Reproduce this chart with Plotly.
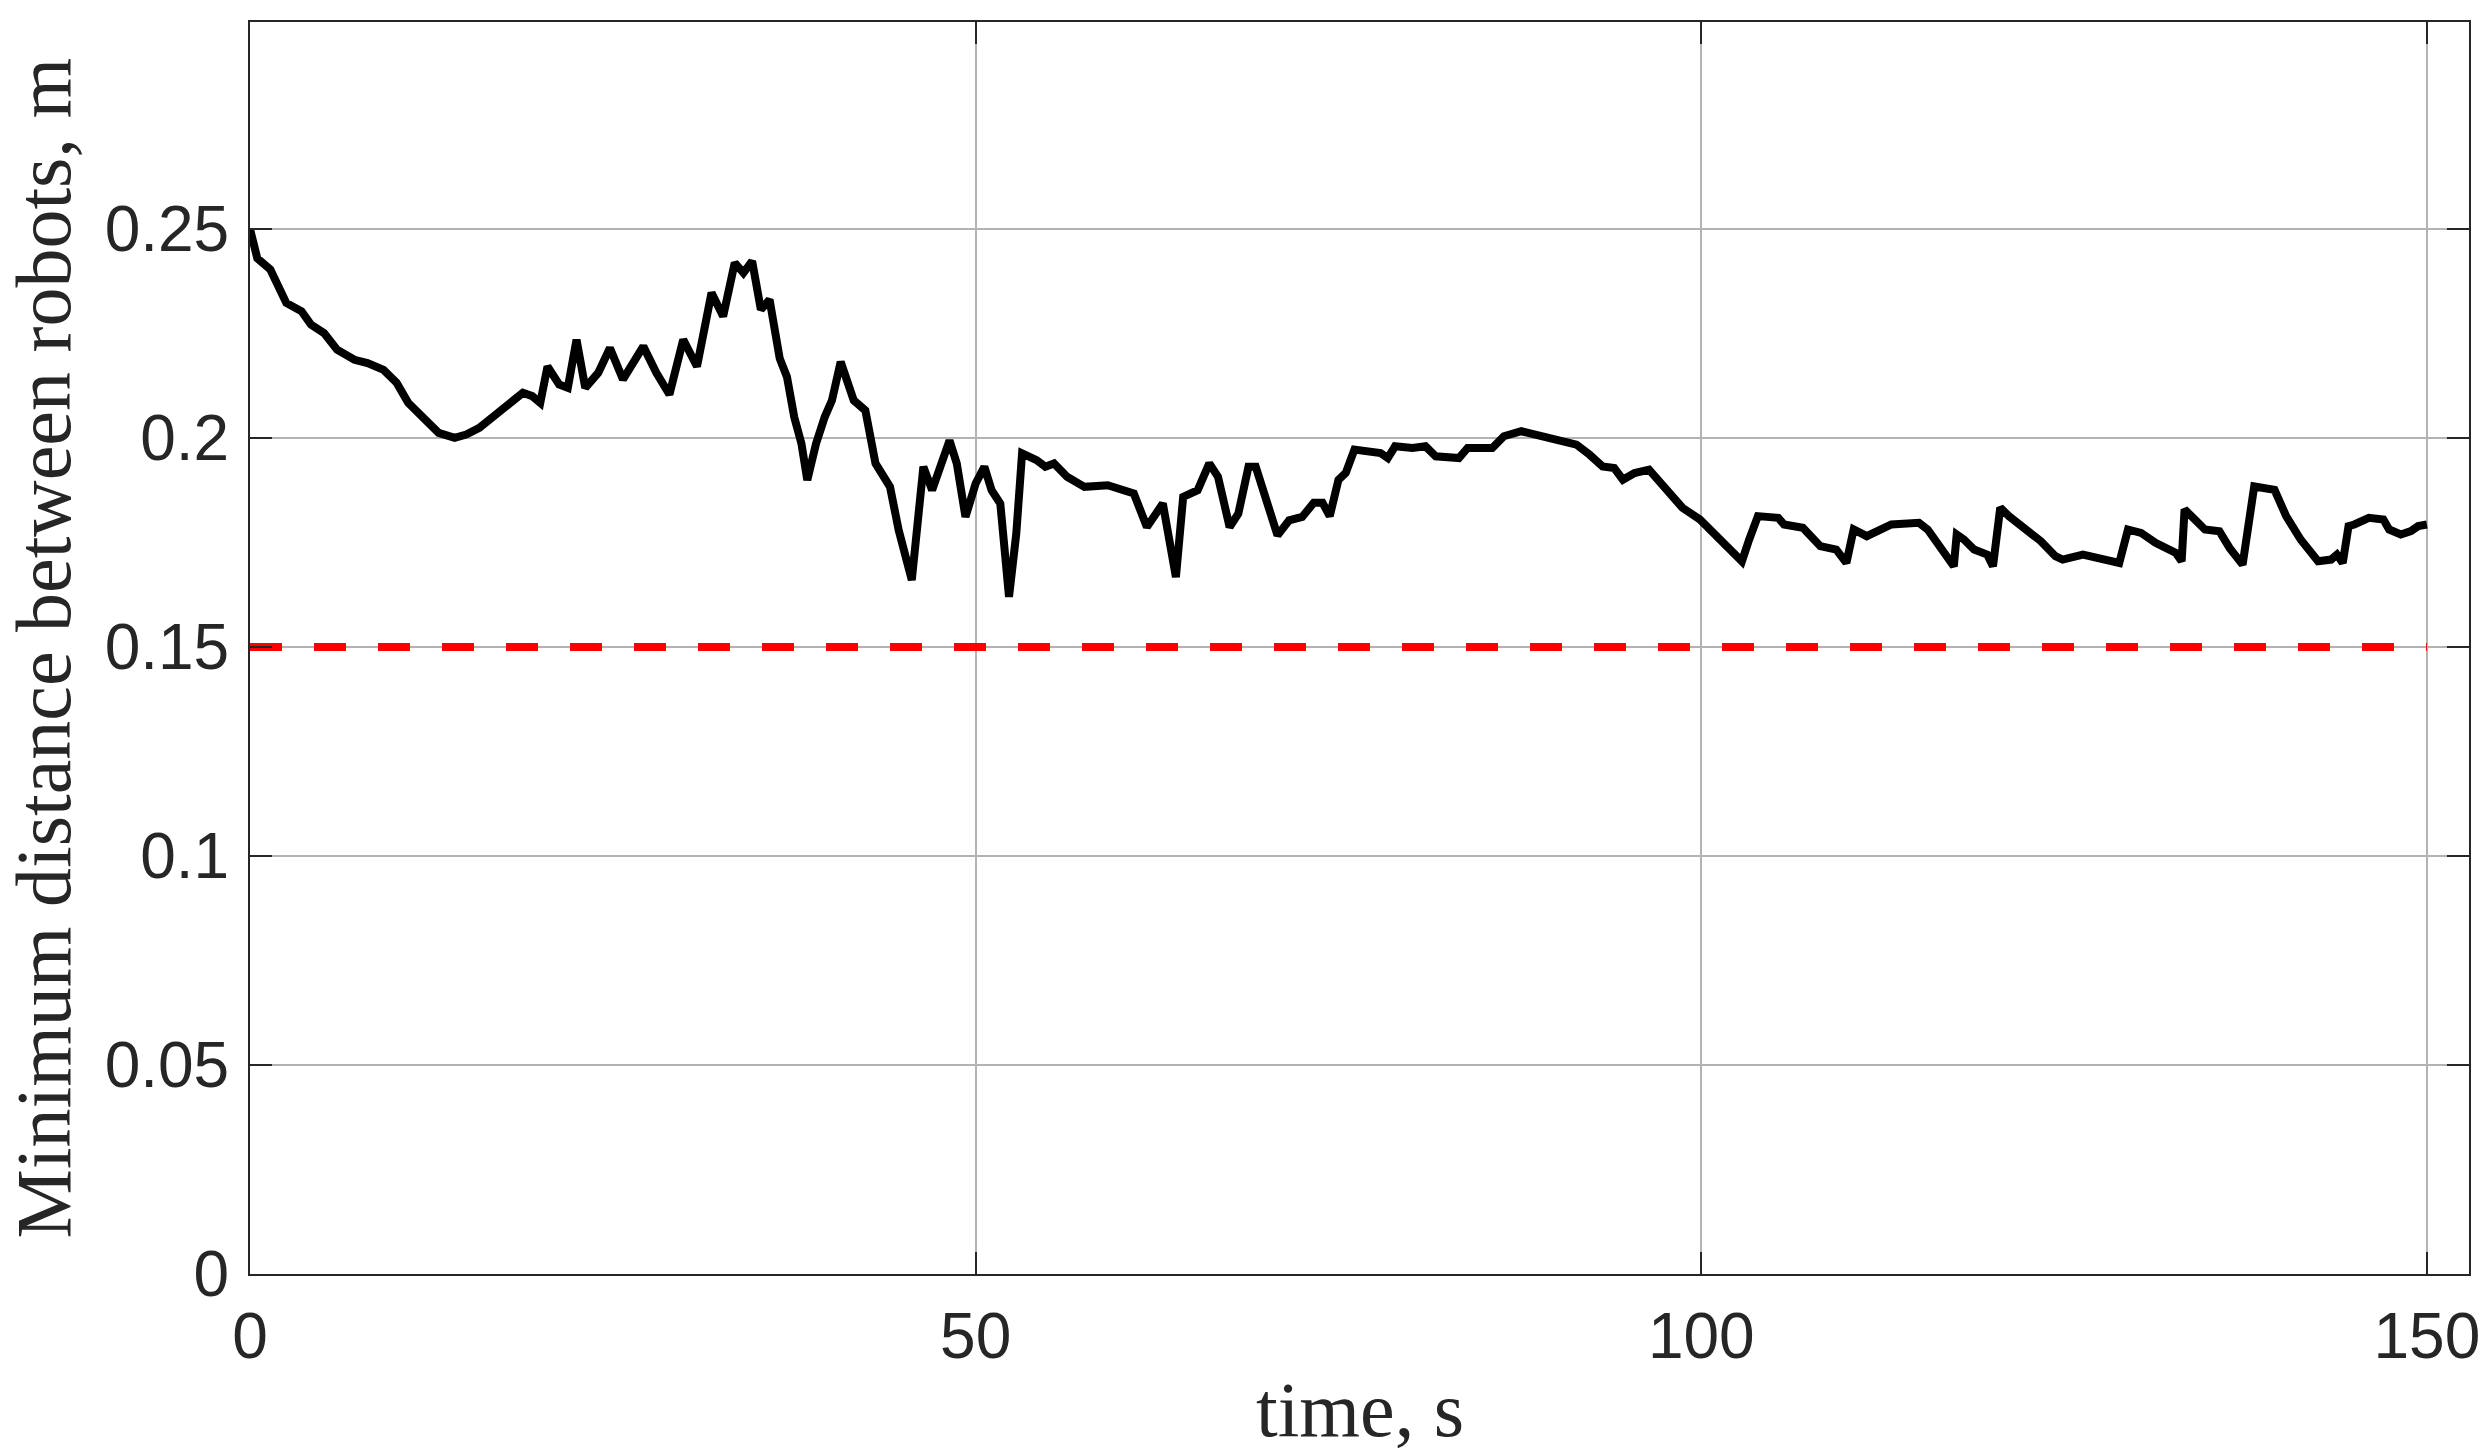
import plotly.graph_objects as go

# minimum distance between robots over time
time_s = [
    0, 0.5, 1.4, 2.5, 3.55, 4.2, 5.1, 6.0, 7.2, 8.1, 9.2, 10.1, 10.9, 12.1, 13.0,
    14.1, 14.9, 15.8, 17.0, 17.9, 18.8, 19.45, 20.0, 20.5, 21.3, 21.9, 22.5, 23.1,
    24.0, 24.8, 25.7, 27.1, 28.0, 28.9, 29.85, 30.8, 31.8, 32.6, 33.4, 34.0, 34.6,
    35.2, 35.8, 36.5, 37.0, 37.5, 38.0, 38.4, 39.0, 39.6, 40.1, 40.7, 41.2, 41.6,
    42.4, 43.1, 44.1, 44.7, 45.6, 46.4, 47.0, 47.6, 48.2, 48.7, 49.3, 50.0, 50.6,
    51.1, 51.7, 52.3, 52.8, 53.2, 54.2, 54.8, 55.4, 56.3, 57.5, 59.1, 60.0, 60.9,
    61.8, 62.4, 62.9, 63.8, 64.3, 65.3, 66.1, 66.7, 67.5, 68.1, 68.8, 69.3, 70.2,
    70.8, 71.6, 72.5, 73.3, 73.9, 74.4, 75.0, 75.5, 76.1, 77.9, 78.4, 78.9, 80.1,
    81.0, 81.7, 83.3, 83.9, 85.6, 86.4, 87.6, 88.6, 90.5, 91.4, 92.3, 93.2, 94.0,
    94.6, 95.4, 96.4, 97.0, 97.8, 98.7, 99.9, 100.9, 101.9, 102.8, 103.3, 103.9,
    105.3, 105.7, 107.0, 108.2, 109.3, 110.0, 110.5, 111.4, 113.1, 115.0, 115.6,
    116.3, 117.4, 117.6, 118.1, 118.8, 119.7, 120.1, 120.6, 121.2, 122.4, 123.4,
    124.4, 124.9, 126.3, 127.8, 128.8, 129.4, 130.3, 131.3, 132.7, 133.1, 133.3,
    134.0, 134.7, 135.7, 136.4, 137.3, 137.6, 138.1, 139.5, 140.3, 141.3, 142.5,
    143.4, 143.8, 144.2, 144.6, 145.0, 146.0, 147.0, 147.4, 148.2, 148.9, 149.4,
    150.0,
]
min_distance = [
    0.25, 0.243, 0.2403, 0.2323, 0.2303, 0.2271, 0.2251, 0.2211, 0.2187, 0.2179,
    0.2163, 0.2132, 0.2084, 0.2044, 0.2012, 0.2, 0.2008, 0.2024, 0.2056, 0.2084,
    0.2108, 0.21, 0.2084, 0.2171, 0.2128, 0.212, 0.2235, 0.212, 0.2156, 0.2215,
    0.214, 0.2219, 0.2156, 0.2104, 0.2235, 0.2171, 0.2347, 0.2291, 0.2419, 0.2395,
    0.2423, 0.2307, 0.2331, 0.219, 0.2146, 0.205, 0.1986, 0.1899, 0.1986, 0.205,
    0.209, 0.2182, 0.2138, 0.209, 0.2066, 0.1939, 0.1883, 0.1779, 0.166, 0.1931,
    0.1875, 0.1931, 0.1994, 0.1939, 0.1811, 0.1891, 0.1931, 0.1875, 0.1843, 0.162,
    0.1771, 0.1963, 0.1947, 0.1931, 0.1939, 0.1907, 0.1883, 0.1887, 0.1875, 0.1867,
    0.1787, 0.1819, 0.1843, 0.1667, 0.1859, 0.1875, 0.1939, 0.1907, 0.1787, 0.1819,
    0.1931, 0.1931, 0.1827, 0.1767, 0.1803, 0.1811, 0.1845, 0.1845, 0.1813, 0.19,
    0.1916, 0.1972, 0.1964, 0.1952, 0.198, 0.1976, 0.198, 0.1956, 0.1952, 0.1976,
    0.1976, 0.2004, 0.2016, 0.2008, 0.1996, 0.1984, 0.196, 0.1932, 0.1928, 0.19,
    0.1916, 0.1924, 0.19, 0.1868, 0.1833, 0.1805, 0.1769, 0.1733, 0.1705, 0.1757,
    0.1813, 0.1809, 0.1793, 0.1785, 0.1741, 0.1733, 0.1701, 0.1781, 0.1765, 0.1793,
    0.1797, 0.1781, 0.1749, 0.1693, 0.1769, 0.1757, 0.1733, 0.1721, 0.1693, 0.1833,
    0.1813, 0.1781, 0.1753, 0.1717, 0.1709, 0.1721, 0.1709, 0.1701, 0.1781, 0.1773,
    0.1749, 0.1725, 0.1705, 0.1829, 0.1805, 0.1781, 0.1777, 0.1737, 0.1697, 0.1781,
    0.1884, 0.1876, 0.1813, 0.1757, 0.1705, 0.1709, 0.1721, 0.1701, 0.1789, 0.1793,
    0.1809, 0.1805, 0.1781, 0.1769, 0.1777, 0.1789, 0.1793,
]

# safety threshold
threshold_t = [0, 150]
threshold_d = [0.15, 0.15]

x_ticks = [0, 50, 100, 150]
y_ticks = [0, 0.05, 0.1, 0.15, 0.2, 0.25]
y_tick_labels = ["0", "0.05", "0.1", "0.15", "0.2", "0.25"]

axis_color = "#262626"
grid_color = "#b3b3b3"
tick_font = dict(family="Liberation Sans, Arial, sans-serif", size=64, color=axis_color)
title_font = dict(family="Liberation Serif, Times New Roman, serif", size=78, color=axis_color)

fig = go.Figure()
fig.add_trace(
    go.Scatter(
        x=time_s, y=min_distance, mode="lines",
        line=dict(color="black", width=8),
        showlegend=False,
    )
)
fig.add_trace(
    go.Scatter(
        x=threshold_t, y=threshold_d, mode="lines",
        line=dict(color="red", width=8, dash="32px,32px"),
        showlegend=False,
    )
)

axis_common = dict(
    showline=True, linecolor=axis_color, linewidth=2, mirror="ticks",
    ticks="inside", ticklen=22, tickwidth=2, tickcolor=axis_color,
    showgrid=True, gridcolor=grid_color, gridwidth=2,
    zeroline=False, tickfont=tick_font,
)
fig.update_xaxes(
    range=[0, 152.9], tickvals=x_ticks, ticklabelstandoff=5, **axis_common
)
fig.update_yaxes(
    range=[0, 0.2995], tickvals=y_ticks, ticktext=y_tick_labels,
    ticklabelstandoff=6, **axis_common
)

fig.add_annotation(
    text="time, s", xref="paper", yref="paper", x=0.5, y=-0.1086,
    xanchor="center", yanchor="middle", showarrow=False, font=title_font,
)
fig.add_annotation(
    text="Minimum distance between robots, m", xref="paper", yref="paper",
    x=-0.0935, y=0.5, xanchor="center", yanchor="middle", textangle=-90,
    showarrow=False, font=title_font,
)

fig.update_layout(
    width=2492, height=1454,
    margin=dict(l=250, r=12, t=22, b=180),
    paper_bgcolor="white", plot_bgcolor="white",
)

# drop the default 8 px body margin so the figure fills the window exactly
fig.write_html(
    "out.html",
    config={"displayModeBar": False},
    post_script="document.body.style.margin = '0';",
)
